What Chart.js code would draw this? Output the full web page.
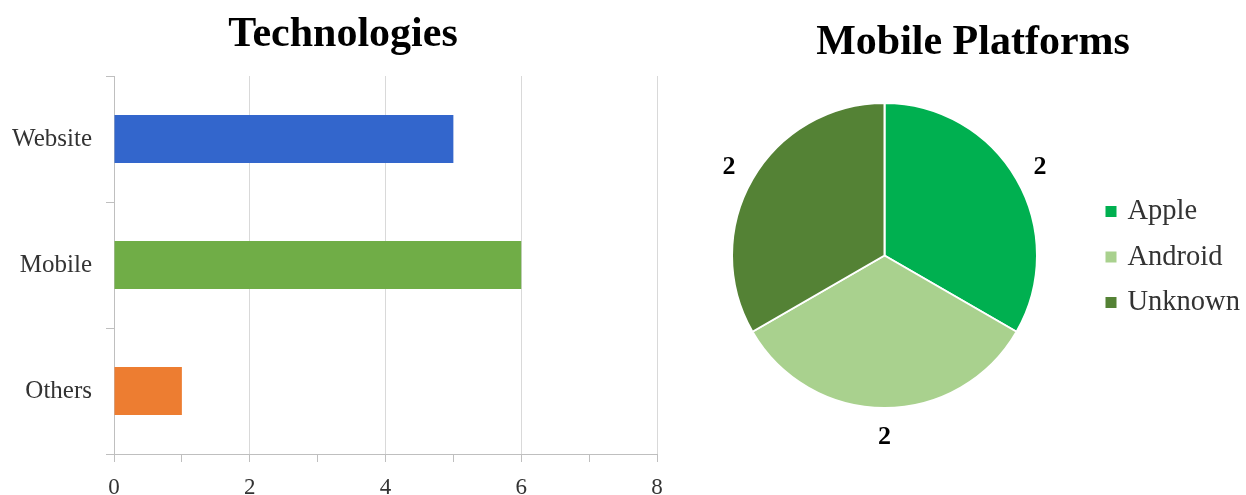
<!DOCTYPE html>
<html>
<head>
<meta charset="utf-8">
<script src="https://cdn.jsdelivr.net/npm/chart.js@4/dist/chart.umd.min.js"></script>
<style>
  body { margin: 0; background: #fff; overflow: hidden; }
  .wrap { position: absolute; top: 0; }
</style>
</head>
<body>
<div class="wrap" style="left:0"><canvas id="bar" width="686" height="495"></canvas></div>
<div class="wrap" style="left:700px"><canvas id="pie" width="546" height="495"></canvas></div>
<script>
const techLabels = ['Website', 'Mobile', 'Others'];
const techValues = [5, 6, 1];
const techColors = ['#3366CC', '#70AD47', '#ED7D31'];
const xMin = 0, xMax = 8;

const platformLabels = ['Apple', 'Android', 'Unknown'];
const platformValues = [2, 2, 2];
const platformColors = ['#00B050', '#A9D18E', '#548235'];

const serif = '"Liberation Serif", "Times New Roman", serif';
Chart.defaults.font.family = serif;
Chart.defaults.color = '#333';

// center the title over the whole canvas, not over the padded area
const fullTitle = {
    id: 'fullTitle',
    afterLayout(chart) {
        const t = chart.titleBlock;
        if (t) { t.left = 0; t.right = chart.width; t.width = chart.width; }
    }
};

new Chart(document.getElementById('bar').getContext('2d'), {
    type: 'bar',
    data: {
        labels: techLabels,
        datasets: [{
            data: techValues,
            backgroundColor: techColors,
            barPercentage: 0.38,
            categoryPercentage: 1
        }]
    },
    options: {
        indexAxis: 'y',
        responsive: false,
        animation: false,
        layout: { padding: { left: 0, right: 29, top: 0, bottom: 0 } },
        plugins: {
            legend: { display: false },
            tooltip: { enabled: false },
            title: {
                display: true,
                text: 'Technologies',
                color: '#000',
                font: { size: 42, weight: 'bold', family: serif },
                padding: { top: 10, bottom: 15.6 }
            }
        },
        scales: {
            x: {
                min: xMin,
                max: xMax,
                ticks: {
                    stepSize: 1,
                    color: '#333',
                    font: { size: 23 },
                    padding: 12,
                    callback: v => (v % 2 === 0 ? v : '')
                },
                grid: {
                    color: c => (c.tick && c.tick.value % 2 === 0 ? '#d9d9d9' : 'rgba(0,0,0,0)'),
                    tickColor: '#bfbfbf',
                    tickLength: 8
                },
                border: { color: '#bfbfbf' },
                afterFit: s => { s.height = 41; }
            },
            y: {
                ticks: { color: '#333', font: { size: 25 }, padding: 14 },
                grid: { drawOnChartArea: false, tickColor: '#bfbfbf', tickLength: 8 },
                border: { color: '#bfbfbf' },
                afterFit: s => { s.width = 114; }
            }
        }
    },
    plugins: [fullTitle]
});

// value labels outside the slices + legend to the right of the pie
const pieExtras = {
    id: 'pieExtras',
    afterDraw(chart) {
        const ctx = chart.ctx;
        const meta = chart.getDatasetMeta(0);
        ctx.save();
        ctx.fillStyle = '#000';
        ctx.font = 'bold 26px ' + serif;
        ctx.textAlign = 'center';
        ctx.textBaseline = 'middle';
        meta.data.forEach((arc, i) => {
            const p = arc.getProps(['x', 'y', 'startAngle', 'endAngle', 'outerRadius'], true);
            const a = (p.startAngle + p.endAngle) / 2;
            const r = p.outerRadius + 27;
            ctx.fillText(chart.data.datasets[0].data[i], p.x + Math.cos(a) * r, p.y + Math.sin(a) * r + 2);
        });
        const area = chart.chartArea;
        const cx = (area.left + area.right) / 2;
        const cy = (area.top + area.bottom) / 2;
        ctx.font = '28.5px ' + serif;
        ctx.textAlign = 'left';
        chart.data.labels.forEach((label, i) => {
            const y = cy + (i - 1) * 45.5 + 2;
            ctx.fillStyle = chart.data.datasets[0].backgroundColor[i];
            ctx.fillRect(cx + 221, y - 6, 11, 11);
            ctx.fillStyle = '#333';
            ctx.fillText(label, cx + 243, y);
        });
        ctx.restore();
    }
};

new Chart(document.getElementById('pie').getContext('2d'), {
    type: 'pie',
    data: {
        labels: platformLabels,
        datasets: [{
            data: platformValues,
            backgroundColor: platformColors,
            borderColor: '#fff',
            borderWidth: 2,
            hoverOffset: 0
        }]
    },
    options: {
        responsive: false,
        animation: false,
        layout: { padding: { left: 31, right: 208, top: 0, bottom: 86 } },
        plugins: {
            legend: { display: false },
            tooltip: { enabled: false },
            title: {
                display: true,
                text: 'Mobile Platforms',
                color: '#000',
                font: { size: 42, weight: 'bold', family: serif },
                padding: { top: 18, bottom: 33.6 }
            }
        }
    },
    plugins: [fullTitle, pieExtras]
});
</script>
</body>
</html>
